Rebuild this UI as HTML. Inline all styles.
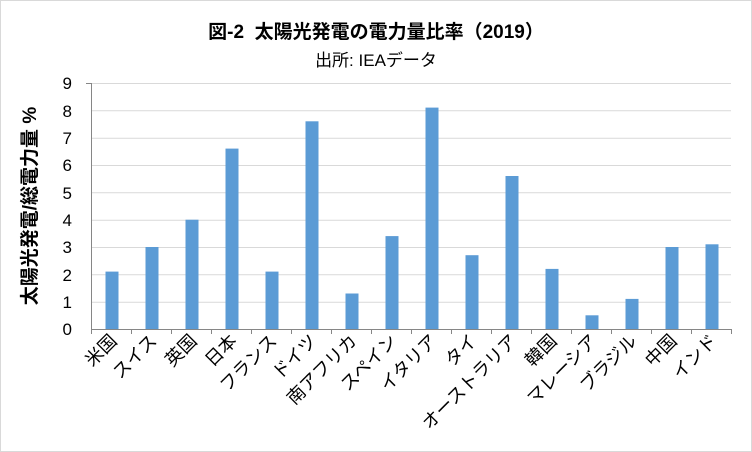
<!DOCTYPE html>
<html><head><meta charset="utf-8"><style>
body{margin:0;background:#fff}
svg{display:block;font-family:"Liberation Sans","Noto Sans CJK JP",sans-serif}
</style></head><body>
<svg width="752" height="452" xmlns="http://www.w3.org/2000/svg">
<rect x="0.5" y="0.5" width="751" height="451" fill="#fff" stroke="#d9d9d9"/>
<text x="376" y="38" text-anchor="middle" font-size="19" font-weight="bold" fill="#000" xml:space="preserve">図-2  太陽光発電の電力量比率（2019）</text>
<text x="376" y="66" text-anchor="middle" font-size="17" fill="#000">出所: IEAデータ</text>
<text transform="translate(36,206) rotate(-90)" text-anchor="middle" font-size="19" font-weight="bold" fill="#000">太陽光発電/総電力量 %</text>
<g stroke="#d9d9d9" stroke-width="1">
<line x1="91" y1="83.5" x2="731" y2="83.5"/>
<line x1="91" y1="110.8" x2="731" y2="110.8"/>
<line x1="91" y1="138.2" x2="731" y2="138.2"/>
<line x1="91" y1="165.5" x2="731" y2="165.5"/>
<line x1="91" y1="192.8" x2="731" y2="192.8"/>
<line x1="91" y1="220.2" x2="731" y2="220.2"/>
<line x1="91" y1="247.5" x2="731" y2="247.5"/>
<line x1="91" y1="274.8" x2="731" y2="274.8"/>
<line x1="91" y1="302.2" x2="731" y2="302.2"/>
</g>
<g font-size="17" fill="#000" text-anchor="end">
<text x="72" y="335">0</text><text x="72" y="308">1</text><text x="72" y="281">2</text><text x="72" y="253">3</text><text x="72" y="226">4</text><text x="72" y="199">5</text><text x="72" y="171">6</text><text x="72" y="144">7</text><text x="72" y="117">8</text><text x="72" y="89">9</text>
</g>
<g fill="#5b9bd5">
<rect x="105.5" y="271.6" width="13" height="57.4"/>
<rect x="145.5" y="247" width="13" height="82"/>
<rect x="185.5" y="219.7" width="13" height="109.3"/>
<rect x="225.5" y="148.6" width="13" height="180.4"/>
<rect x="265.5" y="271.6" width="13" height="57.4"/>
<rect x="305.5" y="121.3" width="13" height="207.7"/>
<rect x="345.5" y="293.5" width="13" height="35.5"/>
<rect x="385.5" y="236.1" width="13" height="92.9"/>
<rect x="425.5" y="107.6" width="13" height="221.4"/>
<rect x="465.5" y="255.2" width="13" height="73.8"/>
<rect x="505.5" y="176" width="13" height="153"/>
<rect x="545.5" y="268.9" width="13" height="60.1"/>
<rect x="585.5" y="315.3" width="13" height="13.7"/>
<rect x="625.5" y="298.9" width="13" height="30.1"/>
<rect x="665.5" y="247" width="13" height="82"/>
<rect x="705.5" y="244.3" width="13" height="84.7"/>
</g>
<g stroke="#868686" stroke-width="1">
<line x1="91.5" y1="83" x2="91.5" y2="329"/>
<line x1="91" y1="329.5" x2="731" y2="329.5"/>
<path d="M91.5 329v5M131.5 329v5M171.5 329v5M211.5 329v5M251.5 329v5M291.5 329v5M331.5 329v5M371.5 329v5M411.5 329v5M451.5 329v5M491.5 329v5M531.5 329v5M571.5 329v5M611.5 329v5M651.5 329v5M691.5 329v5M731.5 329v5"/>
<path d="M86 83.5h5"/>
</g>
<g font-size="18" fill="#000" text-anchor="end">
<text transform="translate(118,342) rotate(-45)">米国</text>
<text transform="translate(158,342) rotate(-45)">スイス</text>
<text transform="translate(198,342) rotate(-45)">英国</text>
<text transform="translate(238,342) rotate(-45)">日本</text>
<text transform="translate(278,342) rotate(-45)">フランス</text>
<text transform="translate(318,342) rotate(-45)">ドイツ</text>
<text transform="translate(358,342) rotate(-45)">南アフリカ</text>
<text transform="translate(398,342) rotate(-45)">スペイン</text>
<text transform="translate(438,342) rotate(-45)">イタリア</text>
<text transform="translate(478,342) rotate(-45)">タイ</text>
<text transform="translate(518,342) rotate(-45)">オーストラリア</text>
<text transform="translate(558,342) rotate(-45)">韓国</text>
<text transform="translate(598,342) rotate(-45)">マレーシア</text>
<text transform="translate(638,342) rotate(-45)">ブラジル</text>
<text transform="translate(678,342) rotate(-45)">中国</text>
<text transform="translate(718,342) rotate(-45)">インド</text>
</g>
</svg>
</body></html>
